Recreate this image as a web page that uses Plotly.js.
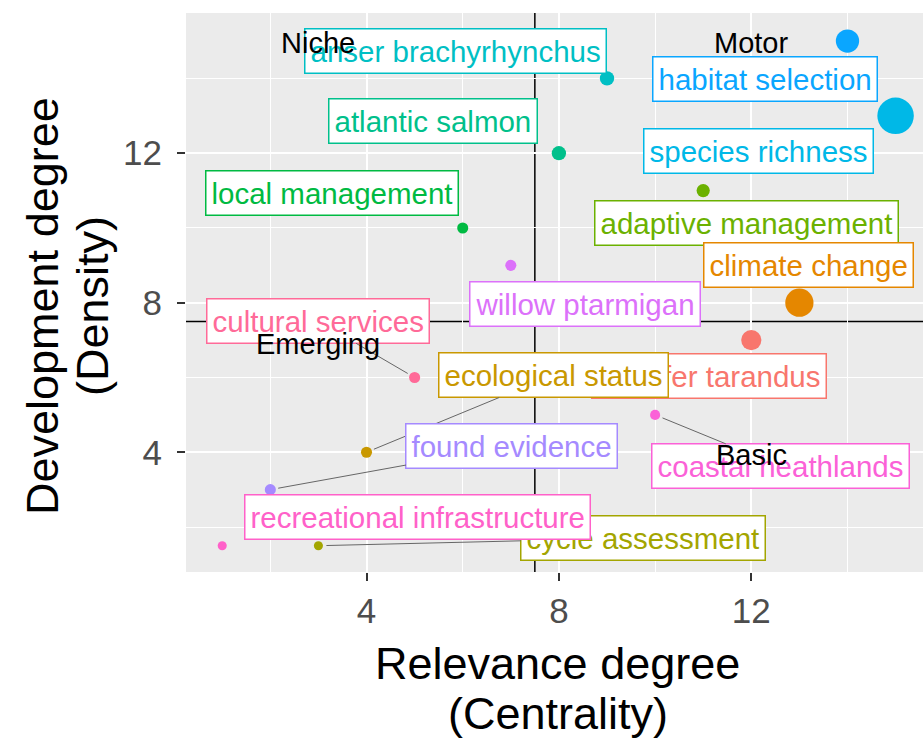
<!DOCTYPE html>
<html>
<head>
<meta charset="utf-8">
<script src="https://cdn.plot.ly/plotly-3.0.1.min.js"></script>
<style>html,body{margin:0;padding:0;background:#fff;}#chart{width:923px;height:742px;}</style>
</head>
<body>
<div id="chart"></div>
<script>
// ---- data ----
const terms = ["habitat selection","species richness","anser brachyrhynchus","atlantic salmon",
  "adaptive management","local management","climate change","willow ptarmigan","rangifer tarandus",
  "cultural services","ecological status","coastal heathlands","found evidence","cycle assessment",
  "recreational infrastructure"];
const centrality = [14, 15, 9, 8, 11, 6, 13, 7, 12, 5, 4, 10, 2, 3, 1];
const density    = [15, 13, 14, 12, 11, 10, 8, 9, 7, 6, 4, 5, 3, 1.5, 1.5];
const frequency  = [53, 130, 20, 20, 17, 12, 78, 12, 40, 12, 12, 10, 12, 8, 8];
const quadrantNames = ["Niche", "Motor", "Emerging", "Basic"];
const xTicks = [4, 8, 12];
const yTicks = [4, 8, 12];
const threshold = 7.5;
const xTitleLines = ["Relevance degree", "(Centrality)"];
const yTitleLines = ["Development degree", "(Density)"];

// ---- styles / layout helpers ----
const colors = ["#0AA6FF","#00B8E7","#00BFC4","#00C08B","#6BB100","#00BA42","#E58700","#DC71FA",
  "#F8766D","#FF6A98","#C99800","#FB61D7","#A58AFF","#A3A500","#FF61C9"];
const labelX = [12.28, 12.16, 5.86, 5.38, 11.91, 3.28, 13.18, 8.54, 11.12, 2.99, 7.88, 12.6, 7.02, 9.75, 5.05];
const labelY = [13.99, 12.06, 14.73, 12.86, 10.13, 10.93, 9.01, 7.97, 6.03, 7.51, 6.06, 3.63, 4.17, 1.71, 2.27];
const withSegment = [false,false,false,false,false,false,false,false,false,true,true,true,true,true,false];
const quadX = [3, 12, 3, 12];
const quadY = [14.95, 14.95, 6.9, 3.93];

const FONT = "Liberation Sans, Arial, sans-serif";

const trace = {
  type: "scatter", mode: "markers",
  x: centrality, y: density, text: terms,
  marker: {
    size: frequency.map(f => 3.2 * Math.sqrt(f)),
    sizemode: "diameter",
    color: colors,
    line: {width: 0},
    opacity: 1
  },
  hoverinfo: "text",
  showlegend: false
};

const annotations = [];
terms.forEach((t, i) => {
  const base = {
    text: t, xref: "x", yref: "y",
    font: {family: FONT, size: 29.5, color: colors[i]},
    bgcolor: "#FFFFFF", bordercolor: colors[i], borderwidth: 1.5, borderpad: 5,
    xanchor: "center", yanchor: "middle"
  };
  if (withSegment[i]) {
    annotations.push(Object.assign(base, {
      x: centrality[i], y: density[i], axref: "x", ayref: "y",
      ax: labelX[i], ay: labelY[i], showarrow: true, arrowhead: 0,
      arrowwidth: 1, arrowcolor: "#666666", standoff: 8
    }));
  } else {
    annotations.push(Object.assign(base, {x: labelX[i], y: labelY[i], showarrow: false}));
  }
});
quadrantNames.forEach((q, i) => {
  annotations.push({
    text: q, x: quadX[i], y: quadY[i], xref: "x", yref: "y", showarrow: false,
    font: {family: FONT, size: 29, color: "#000000"}, xanchor: "center", yanchor: "middle"
  });
});
// axis titles (two tight lines each, as in the reference)
const titleFont = {family: FONT, size: 45, color: "#000000"};
[-0.1628, -0.2540].forEach((p, i) => {
  annotations.push({text: xTitleLines[i], xref: "paper", yref: "paper", x: 0.5047, y: p,
    xanchor: "center", yanchor: "middle", showarrow: false, font: titleFont});
});
[-0.1954, -0.1275].forEach((p, i) => {
  annotations.push({text: yTitleLines[i], xref: "paper", yref: "paper", x: p, y: 0.4758,
    xanchor: "center", yanchor: "middle", showarrow: false, textangle: -90, font: titleFont});
});

const layout = {
  width: 923, height: 742,
  margin: {l: 186, r: 0, t: 13, b: 170, pad: 0},
  paper_bgcolor: "#FFFFFF", plot_bgcolor: "#EBEBEB",
  font: {family: FONT},
  showlegend: false,
  xaxis: {
    range: [0.247, 15.57], tickmode: "array", tickvals: xTicks, ticktext: xTicks.map(String),
    showgrid: true, gridcolor: "#FFFFFF", gridwidth: 2,
    minor: {tickmode: "array", tickvals: [2, 6, 10, 14], showgrid: true, gridcolor: "#FFFFFF", gridwidth: 1, ticks: ""},
    zeroline: false, showline: false,
    ticks: "outside", ticklen: 8, tickwidth: 2, tickcolor: "#333333",
    tickfont: {family: FONT, size: 35, color: "#4D4D4D"},
    fixedrange: true
  },
  yaxis: {
    range: [0.797, 15.75], tickmode: "array", tickvals: yTicks, ticktext: yTicks.map(String),
    showgrid: true, gridcolor: "#FFFFFF", gridwidth: 2,
    minor: {tickmode: "array", tickvals: [2, 6, 10, 14], showgrid: true, gridcolor: "#FFFFFF", gridwidth: 1, ticks: ""},
    zeroline: false, showline: false,
    ticks: "outside", ticklen: 8, tickwidth: 2, tickcolor: "#333333",
    tickfont: {family: FONT, size: 35, color: "#4D4D4D"},
    ticklabelstandoff: 8,
    fixedrange: true
  },
  shapes: [
    {type: "line", xref: "x", yref: "paper", x0: threshold, x1: threshold, y0: 0, y1: 1,
     line: {color: "#000000", width: 1.5}, layer: "between"},
    {type: "line", xref: "paper", yref: "y", x0: 0, x1: 1, y0: threshold, y1: threshold,
     line: {color: "#000000", width: 1.5}, layer: "between"}
  ],
  annotations: annotations
};

Plotly.newPlot("chart", [trace], layout, {displayModeBar: false, staticPlot: true});
</script>
</body>
</html>
